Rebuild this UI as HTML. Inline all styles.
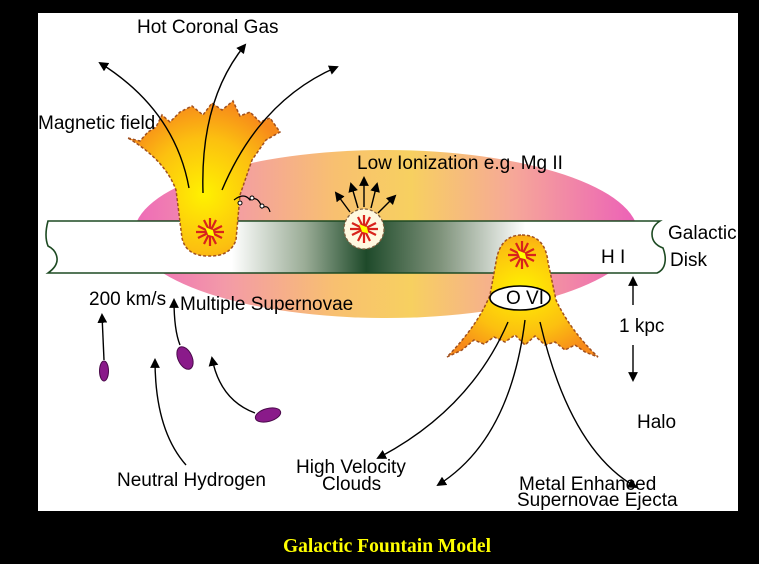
<!DOCTYPE html>
<html><head><meta charset="utf-8"><style>
html,body{margin:0;padding:0;background:#000;}
svg{display:block}
text{font-family:"Liberation Sans",sans-serif;font-size:19px;fill:#000}
</style></head><body>
<svg width="759" height="564" viewBox="0 0 759 564" xmlns="http://www.w3.org/2000/svg">
<defs>
<linearGradient id="halo" x1="0" x2="1" y1="0" y2="0">
<stop offset="0" stop-color="#ee6ab8"/><stop offset="0.18" stop-color="#f39aa8"/>
<stop offset="0.4" stop-color="#f8c070"/><stop offset="0.55" stop-color="#f7d060"/>
<stop offset="0.75" stop-color="#f6a898"/><stop offset="1" stop-color="#ec60b8"/>
</linearGradient>
<linearGradient id="disk" x1="48" x2="660" y1="0" y2="0" gradientUnits="userSpaceOnUse">
<stop offset="0" stop-color="#fff"/><stop offset="0.3" stop-color="#fff"/>
<stop offset="0.42" stop-color="#9aac96"/><stop offset="0.52" stop-color="#1e4a2a"/>
<stop offset="0.64" stop-color="#7e927a"/><stop offset="0.78" stop-color="#fff"/><stop offset="1" stop-color="#fff"/>
</linearGradient>
<radialGradient id="fire" cx="0.5" cy="0.6" r="0.6">
<stop offset="0" stop-color="#fff200"/><stop offset="0.6" stop-color="#fcc010"/><stop offset="1" stop-color="#f78a1a"/>
</radialGradient>
<radialGradient id="fire2" cx="0.5" cy="0.45" r="0.6">
<stop offset="0" stop-color="#fff200"/><stop offset="0.6" stop-color="#fcc010"/><stop offset="1" stop-color="#f78a1a"/>
</radialGradient>
<marker id="ar" viewBox="0 0 10 10" refX="8" refY="5" markerWidth="7" markerHeight="7" orient="auto-start-reverse"><path d="M0,0 L10,5 L0,10 z" fill="#000"/></marker>
<g id="star" stroke="#d8231c" stroke-width="2.2" fill="none">
<path d="M-12,-6 L12,6 M-6,-12 L6,12 M-12,6 L12,-6 M6,-12 L-6,12 M0,-14 L0,14 M-14,0 L14,0"/>
<path d="M-3,-3 L2,-1 L3,3 L-1,2z" fill="#ff0" stroke="#ff0"/>
</g>
</defs>
<rect x="38" y="13" width="700" height="498" fill="#fff"/>
<ellipse cx="386" cy="234" rx="252" ry="84" fill="url(#halo)"/>
<path d="M48,221 L660,221 Q652,226 652,234 Q652,244 663,248 Q666,256 665,262 Q664,270 657,273 L48,273 Q58,266 57,258 Q56,250 48,246 Q44,236 48,221 Z" fill="url(#disk)" stroke="#1d4a22" stroke-width="1.6"/>
<path d="M128,138 L140,141 L148,132 L156,127 L162,115 L170,122 L180,112 L192,106 L203,115 L212,103 L222,110 L233,101 L240,116 L250,112 L260,122 L270,118 L280,132 L266,140 L252,160 L240,195 L236,240 Q230,257 208,256 Q186,256 182,238 L176,190 Q165,160 128,138 Z" fill="url(#fire)" stroke="#a05020" stroke-width="1.5" stroke-dasharray="3,2"/>
<use href="#star" x="210" y="232"/>
<path d="M234,200 Q244,192 250,200 Q258,195 262,208 Q268,204 270,212" fill="none" stroke="#000" stroke-width="1.2"/>
<circle cx="240" cy="203" r="2" fill="#fff" stroke="#000"/><circle cx="252" cy="198" r="2" fill="#fff" stroke="#000"/><circle cx="262" cy="206" r="2" fill="#fff" stroke="#000"/>
<path d="M189,188 Q175,110 100,63" fill="none" stroke="#000" stroke-width="1.4" marker-end="url(#ar)"/>
<path d="M203,193 Q200,100 245,45" fill="none" stroke="#000" stroke-width="1.4" marker-end="url(#ar)"/>
<path d="M222,190 Q260,100 337,67" fill="none" stroke="#000" stroke-width="1.4" marker-end="url(#ar)"/>
<circle cx="364" cy="229" r="20" fill="#fff8e0" stroke="#806040" stroke-width="1.3" stroke-dasharray="3,2"/>
<use href="#star" x="364" y="229"/>
<g stroke="#000" stroke-width="1.4" marker-end="url(#ar)">
<line x1="350" y1="212" x2="336" y2="193"/><line x1="358" y1="208" x2="351" y2="184"/>
<line x1="364" y1="207" x2="364" y2="178"/><line x1="371" y1="208" x2="377" y2="184"/>
<line x1="378" y1="213" x2="395" y2="196"/>
</g>
<path d="M522,235 Q545,235 548,262 L556,300 Q570,330 598,357 L585,352 L575,345 L565,350 L555,342 L545,345 L535,336 L525,345 L515,335 L505,342 L494,337 L484,344 L474,340 L462,350 L447,357 Q478,325 490,295 L496,262 Q500,235 522,235 Z" fill="url(#fire2)" stroke="#a05020" stroke-width="1.5" stroke-dasharray="3,2"/>
<use href="#star" x="522" y="255"/>
<ellipse cx="520" cy="298" rx="30" ry="12" fill="#fff" stroke="#000" stroke-width="1.6"/>
<text x="506" y="304" font-size="15">O VI</text>
<path d="M508,322 Q470,410 378,458" fill="none" stroke="#000" stroke-width="1.4" marker-end="url(#ar)"/>
<path d="M525,320 Q510,440 438,485" fill="none" stroke="#000" stroke-width="1.4" marker-end="url(#ar)"/>
<path d="M540,322 Q570,450 636,487" fill="none" stroke="#000" stroke-width="1.4" marker-end="url(#ar)"/>
<line x1="633" y1="305" x2="633" y2="278" stroke="#000" stroke-width="1.4" marker-end="url(#ar)"/>
<line x1="633" y1="345" x2="633" y2="380" stroke="#000" stroke-width="1.4" marker-end="url(#ar)"/>
<ellipse cx="104" cy="371" rx="4.5" ry="10" fill="#8a1a8a" stroke="#4a0a4a"/>
<line x1="104" y1="360" x2="102" y2="315" stroke="#000" stroke-width="1.4" marker-end="url(#ar)"/>
<ellipse cx="185" cy="358" rx="7" ry="12" transform="rotate(-25 185 358)" fill="#8a1a8a" stroke="#4a0a4a"/>
<path d="M180,345 Q174,330 174,300" fill="none" stroke="#000" stroke-width="1.4" marker-end="url(#ar)"/>
<ellipse cx="268" cy="415" rx="13" ry="6.5" transform="rotate(-15 268 415)" fill="#8a1a8a" stroke="#4a0a4a"/>
<path d="M255,413 Q220,400 212,358" fill="none" stroke="#000" stroke-width="1.4" marker-end="url(#ar)"/>
<path d="M186,465 Q155,430 155,360" fill="none" stroke="#000" stroke-width="1.4" marker-end="url(#ar)"/>
<text x="137" y="33">Hot Coronal Gas</text>
<text x="38" y="129">Magnetic field</text>
<text x="357" y="169">Low Ionization e.g. Mg II</text>
<text x="668" y="239">Galactic</text>
<text x="670" y="266">Disk</text>
<text x="601" y="263">H I</text>
<text x="89" y="305">200 km/s</text>
<text x="180" y="310">Multiple Supernovae</text>
<text x="619" y="332">1 kpc</text>
<text x="637" y="428">Halo</text>
<text x="117" y="486">Neutral Hydrogen</text>
<text x="296" y="473">High Velocity</text>
<text x="322" y="490">Clouds</text>
<text x="519" y="490">Metal Enhanced</text>
<text x="517" y="506">Supernovae Ejecta</text>
<text x="387" y="552" text-anchor="middle" style="font-family:'Liberation Serif',serif;font-weight:bold;font-size:19.5px;fill:#ffff00">Galactic Fountain Model</text>
</svg>
</body></html>
